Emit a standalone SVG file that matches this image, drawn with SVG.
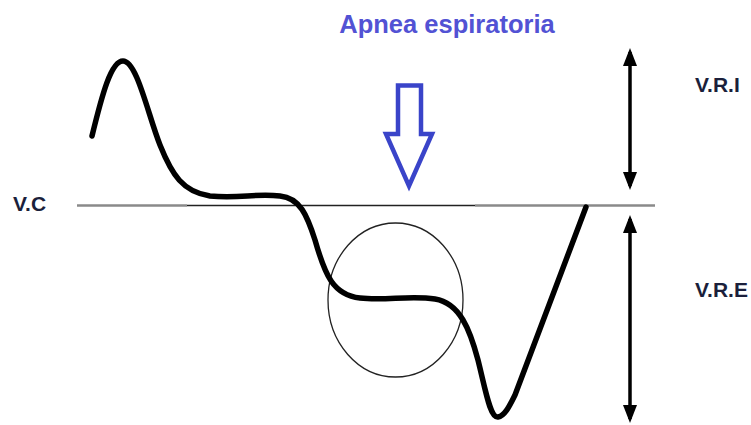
<svg xmlns="http://www.w3.org/2000/svg" width="751" height="425" viewBox="0 0 751 425">
<defs>
<style>
.lbl{font-family:"Liberation Sans",Arial,sans-serif;font-weight:bold;font-size:21px;fill:#1b1f3b}
.title{font-family:"Liberation Sans",Arial,sans-serif;font-weight:bold;font-size:25.5px;fill:#5252d4}
.dim{stroke:#000;stroke-width:3.5;fill:none}
</style>
<marker id="ah" markerUnits="userSpaceOnUse" markerWidth="18" markerHeight="14" viewBox="0 0 18 14" refX="14" refY="7" orient="auto-start-reverse">
<path d="M0,0 L18,7 L0,14 z" fill="#000"/>
</marker>
</defs>
<rect width="751" height="425" fill="#fff"/>
<g id="baseline">
<line x1="77" y1="205.5" x2="187" y2="205.5" stroke="#8a8a8a" stroke-width="2.5"/>
<line x1="187" y1="205.5" x2="475" y2="205.5" stroke="#222" stroke-width="1.5"/>
<line x1="475" y1="205.5" x2="655" y2="205.5" stroke="#8a8a8a" stroke-width="2.5"/>
</g>
<g id="circle">
<ellipse cx="395.5" cy="300" rx="67.5" ry="77" fill="none" stroke="#222" stroke-width="1.3"/>
</g>
<g id="curve">
<path d="M92,136 C102,95 111,61 123,61 C137,61 148,115 160,145 C172,175 183,192 210,196 C240,199 255,193 280,196 C300,198 307,215 315,240 C325,275 333,295 360,298 C385,301 410,295 435,299 C460,303 470,330 478,360 C486,392 490,418 498,417 C505,416 510,405 515,395 L586,207" fill="none" stroke="#000" stroke-width="5.5" stroke-linecap="round" stroke-linejoin="round"/>
</g>
<g id="apnea-arrow">
<path d="M398,85.5 L421,85.5 L421,134 L432,134 L409,186 L386,134 L398,134 Z" fill="#fff" stroke="#3a44c9" stroke-width="4.5" stroke-linejoin="miter"/>
</g>
<g id="connectors">
<line class="dim" x1="630" y1="52" x2="630" y2="186" marker-start="url(#ah)" marker-end="url(#ah)"/>
<line class="dim" x1="630" y1="219" x2="630" y2="419" marker-start="url(#ah)" marker-end="url(#ah)"/>
</g>
<g id="labels">
<text class="title" x="447" y="33" text-anchor="middle">Apnea espiratoria</text>
<text class="lbl" x="13" y="211">V.C</text>
<text class="lbl" x="695" y="92">V.R.I</text>
<text class="lbl" x="695" y="297">V.R.E</text>
</g>
</svg>
